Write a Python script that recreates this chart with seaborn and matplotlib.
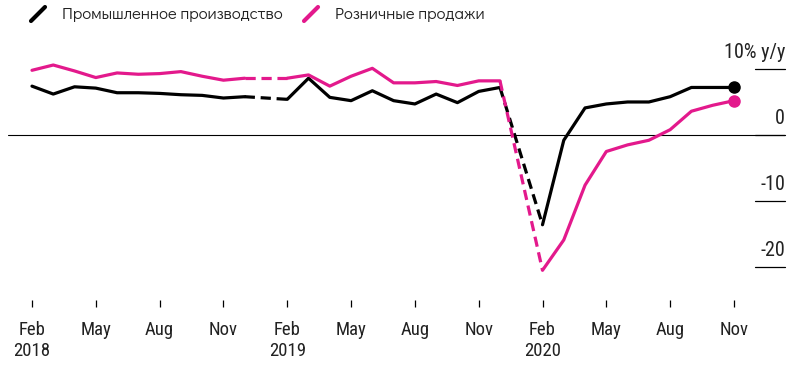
import numpy as np
import pandas as pd
import seaborn as sns
import matplotlib.pyplot as plt
from matplotlib.lines import Line2D
from matplotlib import transforms

# Data: monthly y/y change, Feb 2018 .. Nov 2020 (January values are not published)
months = pd.date_range("2018-02-01", "2020-11-01", freq="MS")
industry = [7.4, 6.2, 7.3, 7.1, 6.4, 6.4, 6.3, 6.1, 6.0, 5.6, 5.8, np.nan,
            5.4, 8.6, 5.7, 5.2, 6.7, 5.2, 4.7, 6.2, 4.9, 6.6, 7.2, np.nan,
            -13.6, -0.8, 4.1, 4.7, 5.0, 5.0, 5.8, 7.2, 7.2, 7.2]
retail = [9.8, 10.6, 9.7, 8.7, 9.4, 9.2, 9.3, 9.6, 8.9, 8.3, 8.6, np.nan,
          8.6, 9.1, 7.4, 8.9, 10.1, 7.9, 7.9, 8.1, 7.5, 8.2, 8.2, np.nan,
          -20.5, -15.9, -7.6, -2.5, -1.5, -0.8, 0.8, 3.6, 4.5, 5.2]
series_names = ["Промышленное производство", "Розничные продажи"]
series_colors = ["#000000", "#e3198c"]
tick_months = ["Feb", "May", "Aug", "Nov"]
y_labels = {10: "10% y/y", 0: "0", -10: "-10", -20: "-20"}

df = pd.DataFrame({"month": months, "idx": np.arange(len(months)),
                   series_names[0]: industry, series_names[1]: retail})

sns.set_style("white")
plt.rcParams["font.family"] = ["Roboto Condensed", "Liberation Sans", "DejaVu Sans"]

fig = plt.figure(figsize=(7.92, 3.66), dpi=100)
W, H = 792, 366
ax = fig.add_axes([8 / W, 1 - 300 / H, (785 - 8) / W, (300 - 40) / H])

for name, color in zip(series_names, series_colors):
    s = df[["idx", name]].copy()
    s["seg"] = s[name].isna().cumsum()
    s = s.dropna()
    segs = [g for _, g in s.groupby("seg")]
    for g in segs:
        sns.lineplot(data=g, x="idx", y=name, color=color, lw=2.3, ax=ax,
                     legend=False)
    # dashed bridges over the missing January values
    for a, b in zip(segs[:-1], segs[1:]):
        bridge = pd.concat([a.tail(1), b.head(1)])
        sns.lineplot(data=bridge, x="idx", y=name, color=color, lw=2.3,
                     ls=(0, (3.2, 1.8)), ax=ax, legend=False)
    last = s.tail(1)
    ax.plot(last["idx"], last[name], "o", color=color, ms=8, zorder=5)

ax.axhline(0, color="black", lw=0.8, zorder=0)
ax.set_xlim(-1.128, 35.40)
ax.set_ylim(-25.0, 14.39)
for sp in ax.spines.values():
    sp.set_visible(False)

# right-side value labels with short rules
blend = transforms.blended_transform_factory(ax.transAxes, ax.transData)
for v, lab in y_labels.items():
    ax.plot([0.962, 1.0], [v, v], color="black", lw=0.9, transform=blend,
            clip_on=False)
    ax.text(1.0, v + 2.5, lab, transform=blend, ha="right", va="center",
            fontsize=14.5, color="#222222")

# x ticks
ticks, labels = [], []
for i, m in enumerate(months):
    lab = m.strftime("%b")
    if lab in tick_months:
        ticks.append(i)
        labels.append(lab + ("\n" + str(m.year) if lab == "Feb" else ""))
ax.set_xticks(ticks)
ax.set_xticklabels(labels, fontsize=13.5, linespacing=1.25, va="top",
                   color="#222222")
ax.set_yticks([])
ax.tick_params(axis="x", bottom=True, length=5, width=0.9, color="black",
               direction="out", pad=10)
ax.set_xlabel("")
ax.set_ylabel("")

# legend with slanted line icons
for name, color, tx in zip(series_names, series_colors, [62, 335]):
    fig.add_artist(Line2D([(tx - 31) / W, (tx - 17) / W],
                          [1 - 21 / H, 1 - 7 / H], color=color, lw=3,
                          transform=fig.transFigure))
    fig.text(tx / W, 1 - 15 / H, name, fontsize=12, va="center", ha="left",
             family=["Didact Gothic", "Lato", "DejaVu Sans"], color="#222222")

fig.savefig("out.png", dpi=100)
